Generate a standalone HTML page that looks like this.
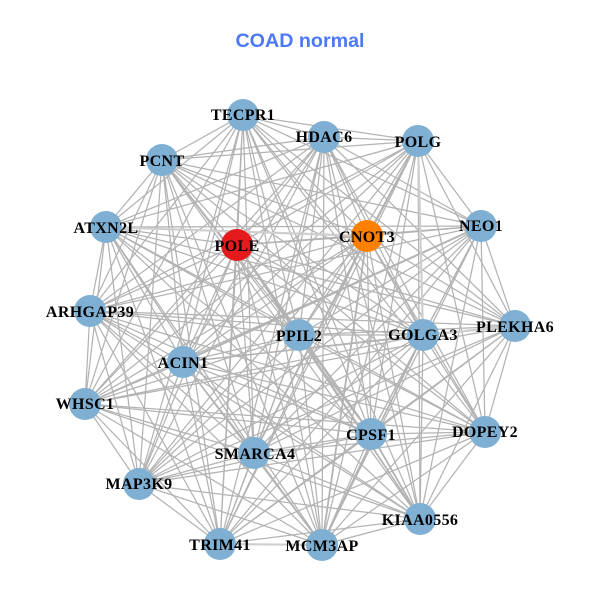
<!DOCTYPE html>
<html><head><meta charset="utf-8"><style>
html,body{margin:0;padding:0;background:#fff;width:600px;height:600px;overflow:hidden}
svg{display:block}
.n{fill:#7fb0d3}
.l{font-family:"Liberation Serif",serif;font-weight:bold;font-size:16px;letter-spacing:.35px;fill:#000;text-anchor:middle}
</style></head><body>
<svg width="600" height="600" viewBox="0 0 600 600" xmlns="http://www.w3.org/2000/svg">
<rect width="600" height="600" fill="#fff"/>
<text x="300" y="47" text-anchor="middle" style="font-family:'Liberation Sans',sans-serif;font-weight:bold;font-size:19.7px;fill:#4d79f6">COAD normal</text>
<g fill="none" stroke="#b3b3b3" stroke-width="1.25" stroke-linejoin="round">
<path d="M243 115 324 137 243 115 418 141 243 115 162 160 243 115 481 226 243 115 106 227 243 115 237 245 243 115 367 236 243 115 90 311 243 115 515 326 243 115 299 335 243 115 423 335 243 115 183 362 243 115 85 404 243 115 371 434 243 115 485 432 243 115 254 453 243 115 139 484 243 115 420 519 243 115 220 544 243 115 322 545"/>
<path d="M324 137 418 141 324 137 162 160 324 137 481 226 324 137 106 227 324 137 237 245 324 137 367 236 324 137 90 311 324 137 515 326 324 137 299 335 324 137 423 335 324 137 183 362 324 137 85 404 324 137 371 434 324 137 485 432 324 137 254 453 324 137 139 484 324 137 420 519 324 137 220 544 324 137 322 545"/>
<path d="M418 141 162 160 418 141 481 226 418 141 106 227 418 141 237 245 418 141 367 236 418 141 90 311 418 141 515 326 418 141 299 335 418 141 423 335 418 141 183 362 418 141 85 404 418 141 371 434 418 141 485 432 418 141 254 453 418 141 139 484 418 141 420 519 418 141 220 544 418 141 322 545"/>
<path d="M162 160 481 226 162 160 106 227 162 160 237 245 162 160 367 236 162 160 90 311 162 160 515 326 162 160 299 335 162 160 423 335 162 160 183 362 162 160 85 404 162 160 371 434 162 160 485 432 162 160 254 453 162 160 139 484 162 160 420 519 162 160 220 544 162 160 322 545"/>
<path d="M481 226 106 227 481 226 237 245 481 226 367 236 481 226 90 311 481 226 515 326 481 226 299 335 481 226 423 335 481 226 183 362 481 226 85 404 481 226 371 434 481 226 485 432 481 226 254 453 481 226 139 484 481 226 420 519 481 226 220 544 481 226 322 545"/>
<path d="M106 227 237 245 106 227 367 236 106 227 90 311 106 227 515 326 106 227 299 335 106 227 423 335 106 227 183 362 106 227 85 404 106 227 371 434 106 227 485 432 106 227 254 453 106 227 139 484 106 227 420 519 106 227 220 544 106 227 322 545"/>
<path d="M237 245 367 236 237 245 90 311 237 245 515 326 237 245 299 335 237 245 423 335 237 245 183 362 237 245 85 404 237 245 371 434 237 245 485 432 237 245 254 453 237 245 139 484 237 245 420 519 237 245 220 544 237 245 322 545"/>
<path d="M367 236 90 311 367 236 515 326 367 236 299 335 367 236 423 335 367 236 183 362 367 236 85 404 367 236 371 434 367 236 485 432 367 236 254 453 367 236 139 484 367 236 420 519 367 236 220 544 367 236 322 545"/>
<path d="M90 311 515 326 90 311 299 335 90 311 423 335 90 311 183 362 90 311 85 404 90 311 371 434 90 311 485 432 90 311 254 453 90 311 139 484 90 311 420 519 90 311 220 544 90 311 322 545"/>
<path d="M515 326 299 335 515 326 423 335 515 326 183 362 515 326 85 404 515 326 371 434 515 326 485 432 515 326 254 453 515 326 139 484 515 326 420 519 515 326 220 544 515 326 322 545"/>
<path d="M299 335 423 335 299 335 183 362 299 335 85 404 299 335 371 434 299 335 485 432 299 335 254 453 299 335 139 484 299 335 420 519 299 335 220 544 299 335 322 545"/>
<path d="M423 335 183 362 423 335 85 404 423 335 371 434 423 335 485 432 423 335 254 453 423 335 139 484 423 335 420 519 423 335 220 544 423 335 322 545"/>
<path d="M183 362 85 404 183 362 371 434 183 362 485 432 183 362 254 453 183 362 139 484 183 362 420 519 183 362 220 544 183 362 322 545"/>
<path d="M85 404 371 434 85 404 485 432 85 404 254 453 85 404 139 484 85 404 420 519 85 404 220 544 85 404 322 545"/>
<path d="M371 434 485 432 371 434 254 453 371 434 139 484 371 434 420 519 371 434 220 544 371 434 322 545"/>
<path d="M485 432 254 453 485 432 139 484 485 432 420 519 485 432 220 544 485 432 322 545"/>
<path d="M254 453 139 484 254 453 420 519 254 453 220 544 254 453 322 545"/>
<path d="M139 484 420 519 139 484 220 544 139 484 322 545"/>
<path d="M420 519 220 544 420 519 322 545"/>
<path d="M220 544 322 545"/>
</g>
<g fill="none" stroke="#b3b3b3" stroke-width="1.8">
<path d="M237 245 371 434M418 141 254 453M367 236 322 545M481 226 183 362M423 335 322 545M371 434 420 519"/>
</g>
<g fill="none" stroke="#cfcfcf" stroke-width="2.2">
<path d="M106 227 367 236M220 544 322 545M418 141 423 335M423 335 515 326"/>
</g>
<circle class="n" cx="243" cy="115" r="16"/><circle class="n" cx="324" cy="137" r="16"/><circle class="n" cx="418" cy="141" r="16"/><circle class="n" cx="162" cy="160" r="16"/><circle class="n" cx="481" cy="226" r="16"/><circle class="n" cx="106" cy="227" r="16"/>
<circle cx="237" cy="245" r="16" fill="#e41a1c"/><circle cx="367" cy="236" r="16" fill="#ff7f00"/>
<circle class="n" cx="90" cy="311" r="16"/><circle class="n" cx="515" cy="326" r="16"/><circle class="n" cx="299" cy="335" r="16"/><circle class="n" cx="423" cy="335" r="16"/><circle class="n" cx="183" cy="362" r="16"/><circle class="n" cx="85" cy="404" r="16"/><circle class="n" cx="371" cy="434" r="16"/><circle class="n" cx="485" cy="432" r="16"/><circle class="n" cx="254" cy="453" r="16"/><circle class="n" cx="139" cy="484" r="16"/><circle class="n" cx="420" cy="519" r="16"/><circle class="n" cx="220" cy="544" r="16"/><circle class="n" cx="322" cy="545" r="16"/>
<text class="l" x="243" y="120">TECPR1</text>
<text class="l" x="324" y="142">HDAC6</text>
<text class="l" x="418" y="147">POLG</text>
<text class="l" x="162" y="166">PCNT</text>
<text class="l" x="481" y="231">NEO1</text>
<text class="l" x="106" y="233">ATXN2L</text>
<text class="l" x="237" y="251">POLE</text>
<text class="l" x="367" y="242">CNOT3</text>
<text class="l" x="90" y="317">ARHGAP39</text>
<text class="l" x="515" y="332">PLEKHA6</text>
<text class="l" x="299" y="341">PPIL2</text>
<text class="l" x="423" y="340">GOLGA3</text>
<text class="l" x="183" y="368">ACIN1</text>
<text class="l" x="85" y="409">WHSC1</text>
<text class="l" x="371" y="440">CPSF1</text>
<text class="l" x="485" y="437">DOPEY2</text>
<text class="l" x="255" y="459">SMARCA4</text>
<text class="l" x="139" y="489">MAP3K9</text>
<text class="l" x="420" y="525">KIAA0556</text>
<text class="l" x="220" y="550">TRIM41</text>
<text class="l" x="322" y="551">MCM3AP</text>
</svg>
</body></html>
